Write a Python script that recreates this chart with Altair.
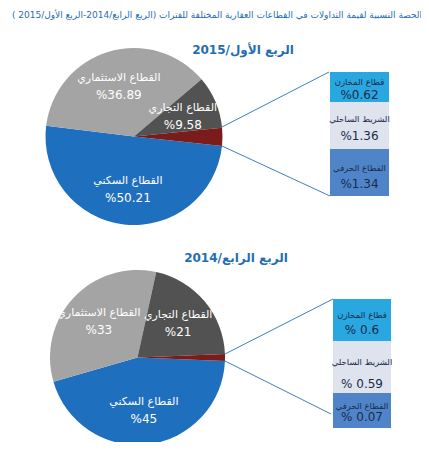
import math
import altair as alt
import pandas as pd

# ---------------- data ----------------
sectors = ["القطاع السكني", "القطاع الاستثماري", "القطاع التجاري", "قطاعات أخرى"]
main_2015 = [50.21, 36.89, 9.58]
main_2014 = [45, 33, 21]
main_lbl_2015 = ["%50.21", "%36.89", "%9.58"]
main_lbl_2014 = ["%45", "%33", "%21"]

small_sectors = ["قطاع المخازن", "الشريط الساحلي", "القطاع الحرفي"]
small_2015 = [0.62, 1.36, 1.34]
small_2014 = [0.6, 0.59, 0.07]
small_lbl_2015 = ["%0.62", "%1.36", "%1.34"]
small_lbl_2014 = ["% 0.6", "% 0.59", "% 0.07"]

title_text = "الحصة النسبية لقيمة التداولات في القطاعات العقارية المختلفة للفترات (الربع الرابع/2014-الربع الأول/2015 )"
sub_2015 = "الربع الأول/2015"
sub_2014 = "الربع الرابع/2014"

# ---------------- style / layout ----------------
sector_colors = ["#1f6fbf", "#a4a4a4", "#525252", "#7a1c1c"]
box_colors = ["#29a7e0", "#dee3ee", "#4f85c8"]
blue_text = "#1f6db5"
box_text = "#1c2b4a"
line_color = "#3f7fc1"
FONT = "DejaVu Sans"

W, H = 413, 434


def make_pie(main, small, labels, cx, cy, r, start_deg):
    values = main + [round(sum(small), 2)]
    df = pd.DataFrame({
        "sector": sectors,
        "value": values,
        "order": list(range(4)),
        "name": sectors[:3] + [""],
        "pct": labels + [""],
    })
    start = math.radians(start_deg)
    base = alt.Chart(df).encode(
        theta=alt.Theta("value:Q", stack=True,
                        scale=alt.Scale(range=[start, start + 2 * math.pi])),
        order=alt.Order("order:Q"),
        x=alt.value(cx), y=alt.value(cy),
    )
    arc = base.mark_arc(outerRadius=r).encode(
        color=alt.Color("sector:N", scale=alt.Scale(domain=sectors, range=sector_colors),
                        legend=None),
    )
    name = base.mark_text(radius=53, dy=-8, dir="rtl", align="center", baseline="middle",
                          color="white", fontSize=11, font=FONT).encode(text="name:N")
    pct = base.mark_text(radius=53, dy=9, align="center", baseline="middle",
                         color="white", fontSize=12, font=FONT).encode(text="pct:N")
    return alt.layer(arc, name, pct)


def boxes(names, pcts, x0, x1, edges, name_y, pct_y):
    df = pd.DataFrame({
        "name": names,
        "pct": pcts,
        "col": box_colors,
        "x0": [x0] * 3, "x1": [x1] * 3,
        "y0": edges[:-1], "y1": edges[1:],
        "ny": name_y, "py": pct_y,
        "xc": [(x0 + x1) / 2] * 3,
    })
    base = alt.Chart(df)
    rect = base.mark_rect().encode(
        x=alt.X("x0:Q", scale=None, axis=None), x2="x1:Q",
        y=alt.Y("y0:Q", scale=None, axis=None), y2="y1:Q",
        color=alt.Color("col:N", scale=None),
    )
    t1 = base.mark_text(fontSize=8.5, font=FONT, color=box_text, dir="rtl",
                        align="center", baseline="middle").encode(
        x=alt.X("xc:Q", scale=None, axis=None), y=alt.Y("ny:Q", scale=None, axis=None),
        text="name:N")
    t2 = base.mark_text(fontSize=12, font=FONT, color=box_text,
                        align="center", baseline="middle").encode(
        x=alt.X("xc:Q", scale=None, axis=None), y=alt.Y("py:Q", scale=None, axis=None),
        text="pct:N")
    return [rect, t1, t2]


def connector(x1, y1, x2, y2):
    return alt.Chart(pd.DataFrame({"a": [0]})).mark_rule(
        color=line_color, strokeWidth=1).encode(
        x=alt.value(x1), y=alt.value(y1), x2=alt.value(x2), y2=alt.value(y2))


def label(text, x, y, size, bold=False):
    return alt.Chart(pd.DataFrame({"t": [text]})).mark_text(
        dir="rtl", align="center", baseline="middle", fontSize=size, font=FONT,
        color=blue_text, fontWeight="bold" if bold else "normal").encode(
        text="t:N", x=alt.value(x), y=alt.value(y))


pie_top = make_pie(main_2015, small_2015, main_lbl_2015, 126, 128.5, 88.5, 96.2)
pie_bot = make_pie(main_2014, small_2014, main_lbl_2014, 129.5, 349.5, 87.5, 92.3)

layers = [
    label(title_text, 209, 7, 9),
    label(sub_2015, 235, 42, 12, True),
    label(sub_2014, 228, 250, 12, True),
    connector(214, 119, 321, 64),
    connector(214, 138, 322, 188),
    connector(217, 346, 325, 291),
    connector(217, 353, 323, 406),
]
layers += boxes(small_sectors, small_lbl_2015, 322, 381, [64, 94, 141, 188],
                [74, 111, 160], [87, 128, 176])
layers += boxes(small_sectors, small_lbl_2014, 325, 383, [291, 333, 385, 420],
                [307, 354, 398], [322, 376, 409])

chart = alt.layer(pie_top, pie_bot, *layers).resolve_scale(
    theta="independent"
).properties(
    width=W, height=H, padding=0, autosize="none", background="white"
).configure_view(strokeWidth=0)

chart.save("out.html", embed_options={"renderer": "svg", "actions": False})
